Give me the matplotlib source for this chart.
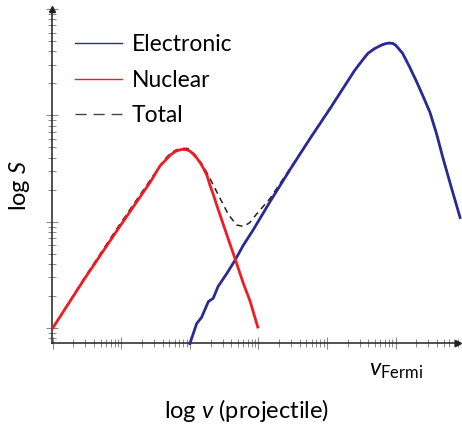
import numpy as np
import matplotlib
matplotlib.use('Agg')
import matplotlib.pyplot as plt
from matplotlib.lines import Line2D
from matplotlib.ticker import LogLocator, NullFormatter

plt.rcParams['font.family'] = ['Lato', 'DejaVu Sans']
plt.rcParams['mathtext.fontset'] = 'custom'
plt.rcParams['mathtext.rm'] = 'Lato'
plt.rcParams['mathtext.it'] = 'Lato:italic'

# values, in decades (log10 v, log10 S)
nuc_logv = [0.0, 0.45, 0.93, 1.42, 1.56, 1.61, 1.72, 1.8, 1.88, 1.95, 2.0, 2.05, 2.1, 2.15,
            2.2, 2.25, 2.29, 2.34, 2.39, 2.49, 2.58, 2.66, 2.78, 2.88, 2.99]
nuc_logS = [0.0, 0.45, 0.91, 1.37, 1.52, 1.555, 1.63, 1.665, 1.68, 1.677, 1.665, 1.635, 1.6,
            1.555, 1.5, 1.435, 1.35, 1.26, 1.16, 0.97, 0.80, 0.65, 0.42, 0.25, 0.01]

ele_logv = [2.0, 2.1, 2.17, 2.27, 2.34, 2.41, 2.54, 2.66, 2.78, 2.92, 3.17, 3.46, 3.75,
            4.04, 4.3, 4.4, 4.53, 4.6, 4.7, 4.8, 4.86, 4.91, 4.96, 5.0, 5.1, 5.2, 5.3, 5.4,
            5.5, 5.6, 5.69, 5.8, 5.94]
ele_logS = [-0.145, 0.044, 0.10, 0.25, 0.28, 0.39, 0.515, 0.64, 0.78, 0.92, 1.19, 1.49, 1.78,
            2.06, 2.32, 2.42, 2.53, 2.585, 2.63, 2.662, 2.675, 2.68, 2.675, 2.66, 2.585,
            2.46, 2.325, 2.18, 2.03, 1.82, 1.6, 1.35, 1.04]

tot_logv = [0.0, 0.45, 0.93, 1.42, 1.61, 1.72, 1.8, 1.88, 1.95, 2.0, 2.1, 2.2, 2.29, 2.44,
            2.56, 2.68, 2.78, 2.87, 2.97, 3.17, 3.46, 3.75, 4.04, 4.3, 4.4, 4.53, 4.6,
            4.7, 4.8, 4.86, 4.91, 4.96, 5.0, 5.1, 5.2, 5.3, 5.4, 5.5, 5.6, 5.69, 5.8, 5.94]
tot_logS = [0.0, 0.46, 0.93, 1.39, 1.57, 1.645, 1.675, 1.69, 1.69, 1.68, 1.61, 1.52, 1.41,
            1.22, 1.07, 0.97, 0.956, 0.99, 1.07, 1.22, 1.5, 1.785, 2.065, 2.325, 2.425,
            2.535, 2.59, 2.635, 2.667, 2.68, 2.685, 2.68, 2.665, 2.59, 2.465, 2.33, 2.185,
            2.035, 1.825, 1.605, 1.355, 1.045]

decades = [1, 10, 100, 1000, 1e4, 1e5]
xtick_labels = ['', '', '', '', '', r'$v_{\mathrm{Fermi}}$']

blue = '#2a2a96'
red = '#f01c24'

fig = plt.figure(figsize=(4.62, 4.25), dpi=100)
ax = fig.add_axes([0.1126, 0.1929, 0.8788, 0.7859])
ax.set_xscale('log')
ax.set_yscale('log')

ax.plot(np.power(10.0, tot_logv), np.power(10.0, tot_logS), color='#222222', lw=1.1,
        dashes=(4, 3), zorder=2)
ax.plot(np.power(10.0, ele_logv), np.power(10.0, ele_logS), color=blue, lw=2.0, zorder=3,
        clip_on=False, solid_joinstyle='round')
ax.plot(np.power(10.0, nuc_logv), np.power(10.0, nuc_logS), color=red, lw=2.0, zorder=3,
        solid_joinstyle='round')

ax.set_xlim(10**-0.01, 10**5.91)
ax.set_ylim(10**-0.14, 10**3.0)

ax.set_xticks(decades, labels=xtick_labels, fontsize=17)
ax.set_yticks([1, 10, 100, 1000], labels=['', '', '', ''])
for axis in (ax.xaxis, ax.yaxis):
    axis.set_minor_locator(LogLocator(base=10, subs=np.arange(2, 10), numticks=20))
    axis.set_minor_formatter(NullFormatter())
ax.tick_params(which='major', direction='inout', length=9, width=0.8, color='#888888', pad=8)
ax.tick_params(which='minor', direction='inout', length=5.5, width=0.7, color='#888888')

for side in ('top', 'right'):
    ax.spines[side].set_visible(False)
for side in ('left', 'bottom'):
    ax.spines[side].set_linewidth(1.1)
    ax.spines[side].set_color('#222222')
ax.plot([1], [0], marker='>', ms=5, color='#222222', transform=ax.transAxes, clip_on=False)
ax.plot([0], [1], marker='^', ms=5, color='#222222', transform=ax.transAxes, clip_on=False)

ax.set_xlabel(r'log $v$ (projectile)', fontsize=17)
ax.xaxis.set_label_coords(0.48, -0.163)
ax.set_ylabel(r'log $S$', fontsize=17)
ax.yaxis.set_label_coords(-0.05, 0.47)

handles = [Line2D([], [], color=blue, lw=1.0),
           Line2D([], [], color=red, lw=1.0),
           Line2D([], [], color='#444444', lw=1.0, dashes=(8, 5))]
ax.legend(handles, ['Electronic', 'Nuclear', 'Total'], loc='upper left',
          bbox_to_anchor=(0.056, 0.925), frameon=False, fontsize=16.5,
          handlelength=2.05, handletextpad=0.45, labelspacing=0.64,
          borderpad=0, borderaxespad=0)

fig.savefig('out.png', dpi=100)
